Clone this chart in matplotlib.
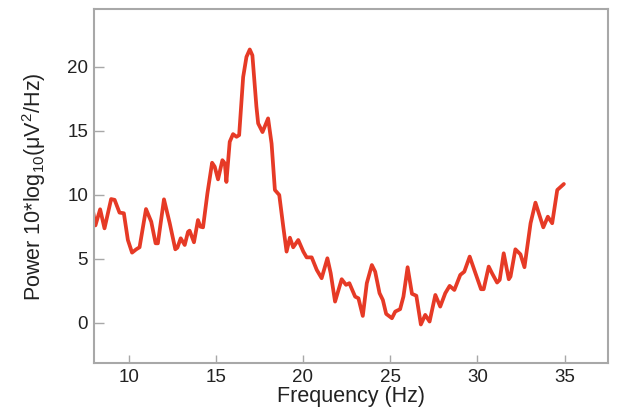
import matplotlib
matplotlib.use("Agg")
import matplotlib.pyplot as plt

plt.rcParams['font.family'] = ['Liberation Sans', 'DejaVu Sans']
plt.rcParams['mathtext.fontset'] = 'custom'
plt.rcParams['mathtext.rm'] = 'Liberation Sans'
plt.rcParams['mathtext.it'] = 'Liberation Sans'

# spectrum
freq = [7.95, 8.1, 8.37, 8.62, 9.0, 9.2, 9.48, 9.73, 9.96, 10.2, 10.44, 10.63,
        11.0, 11.3, 11.55, 11.68, 12.03, 12.36, 12.68, 12.8, 12.99, 13.22, 13.41,
        13.5, 13.75, 13.98, 14.12, 14.27, 14.52, 14.79, 14.94, 15.13, 15.38, 15.52,
        15.61, 15.8, 15.99, 16.19, 16.34, 16.57, 16.76, 16.95, 17.1, 17.33, 17.43,
        17.68, 18.0, 18.2, 18.39, 18.64, 18.87, 19.06, 19.25, 19.44, 19.73, 20.02,
        20.21, 20.5, 20.79, 21.07, 21.4, 21.59, 21.84, 22.22, 22.47, 22.66, 22.99,
        23.18, 23.43, 23.66, 23.95, 24.14, 24.39, 24.58, 24.77, 25.1, 25.29, 25.57,
        25.76, 26.0, 26.25, 26.5, 26.76, 27.01, 27.26, 27.59, 27.87, 28.16, 28.41,
        28.68, 29.02, 29.25, 29.56, 29.89, 30.21, 30.36, 30.65, 30.84, 31.13, 31.28,
        31.51, 31.8, 31.9, 32.18, 32.47, 32.7, 33.05, 33.33, 33.78, 34.04, 34.29,
        34.58, 34.96]
power = [8.8, 7.6, 8.86, 7.37, 9.66, 9.6, 8.6, 8.55, 6.46, 5.47, 5.73, 5.89,
         8.88, 7.89, 6.2, 6.2, 9.64, 7.77, 5.73, 5.86, 6.59, 6.07, 7.1,
         7.19, 6.28, 8.02, 7.5, 7.45, 10.1, 12.5, 12.19, 11.2, 12.7, 12.45,
         11.0, 14.14, 14.74, 14.53, 14.66, 19.2, 20.78, 21.36, 20.9, 16.9, 15.58,
         14.9, 15.97, 14.0, 10.37, 9.98, 7.5, 5.55, 6.64, 5.89, 6.46, 5.55,
         5.1, 5.1, 4.12, 3.47, 5.03, 3.86, 1.64, 3.39, 2.95, 3.08, 2.03,
         1.9, 0.52, 3.08, 4.5, 3.98, 2.3, 1.77, 0.68, 0.34, 0.86, 1.05,
         2.03, 4.33, 2.25, 2.1, -0.15, 0.6, 0.08, 2.16, 1.25, 2.3, 2.87,
         2.55, 3.73, 3.98, 5.16, 3.86, 2.61, 2.61, 4.38, 3.86, 3.13, 3.34,
         5.42, 3.39, 3.6, 5.73, 5.34, 4.33, 7.77, 9.38, 7.45, 8.28, 7.77,
         10.37, 10.84]

xticks = [10, 15, 20, 25, 30, 35]
yticks = [0, 5, 10, 15, 20]

fig = plt.figure(figsize=(6.18, 4.11), dpi=100)
ax = fig.add_axes([0.1516, 0.1156, 0.8325, 0.8617])

ax.plot(freq, power, color='#e63a26', linewidth=2.7,
        solid_joinstyle='round', solid_capstyle='round')

ax.set_xlim(8, 37.5)
ax.set_ylim(-3.2, 24.5)
ax.set_xticks(xticks)
ax.set_yticks(yticks)

for s in ax.spines.values():
    s.set_color('#a8a8a8')
    s.set_linewidth(1.5)

ax.tick_params(axis='both', direction='in', colors='#a8a8a8', labelcolor='#222222',
               labelsize=13.5, width=1)
ax.tick_params(axis='x', length=5.5, pad=4)
ax.tick_params(axis='y', length=7.5, pad=4)

ax.set_xlabel('Frequency (Hz)', fontsize=15.5, color='#222222', labelpad=0)
ax.set_ylabel(r'Power 10*log$_{10}$($\mu$V$^2$/Hz)', fontsize=15.5, color='#222222',
              labelpad=14)

fig.savefig('out.png', dpi=100)
